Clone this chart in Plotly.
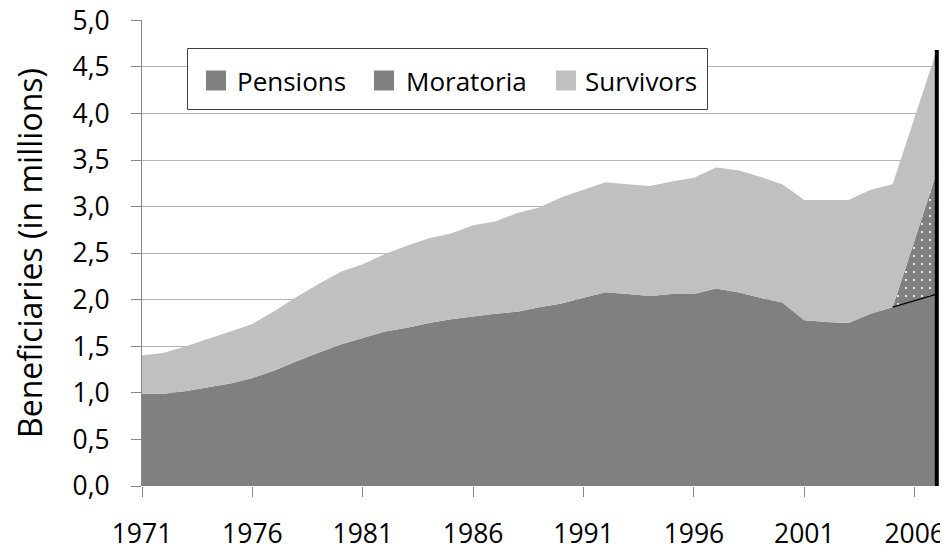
import plotly.graph_objects as go

# beneficiaries in millions
years = list(range(1971, 2008))

pensions = [
    0.99, 0.99, 1.02, 1.06, 1.10, 1.16, 1.24, 1.34, 1.43, 1.52,
    1.59, 1.66, 1.70, 1.75, 1.79, 1.82, 1.85, 1.87, 1.92, 1.96,
    2.02, 2.08, 2.06, 2.04, 2.06, 2.06, 2.12, 2.08, 2.02, 1.97,
    1.78, 1.76, 1.75, 1.85, 1.92, 1.99, 2.06,
]
moratoria = [0.0] * 34 + [0.0, 0.65, 1.31]
survivors = [
    0.41, 0.44, 0.48, 0.52, 0.56, 0.58, 0.64, 0.69, 0.74, 0.78,
    0.79, 0.83, 0.88, 0.91, 0.92, 0.98, 0.99, 1.06, 1.07, 1.14,
    1.16, 1.18, 1.18, 1.18, 1.21, 1.25, 1.30, 1.31, 1.30, 1.27,
    1.29, 1.31, 1.32, 1.33, 1.32, 1.32, 1.31,
]
series_names = ["Pensions", "Moratoria", "Survivors"]

FONT = "Open Sans"
DARK = "#808080"
LIGHT = "#c0c0c0"
AXIS_GRAY = "#868686"

fig = go.Figure()

fig.add_trace(go.Scatter(
    x=years, y=pensions, name=series_names[0], stackgroup="one",
    mode="none", fillcolor=DARK,
))
fig.add_trace(go.Scatter(
    x=years, y=moratoria, name=series_names[1], stackgroup="one",
    mode="none", fillcolor=DARK,
    fillpattern=dict(shape=".", bgcolor=DARK, fgcolor="white",
                     size=8, solidity=0.06),
))
fig.add_trace(go.Scatter(
    x=years, y=survivors, name=series_names[2], stackgroup="one",
    mode="none", fillcolor=LIGHT,
))

# black outline of the moratoria block (bottom edge and right edge)
start = next(i for i, v in enumerate(moratoria) if v > 0) - 1
fig.add_trace(go.Scatter(
    x=years[start:], y=pensions[start:], mode="lines",
    line=dict(color="black", width=1.3), hoverinfo="skip",
))
total_last = pensions[-1] + moratoria[-1] + survivors[-1]
fig.add_trace(go.Scatter(
    x=[years[-1], years[-1]], y=[0, total_last], mode="lines",
    line=dict(color="black", width=4), hoverinfo="skip",
))

# the page body has an 8px margin, so the figure is drawn 8px smaller
PAGE_OFF = 8
FIG_W, FIG_H = 948 - PAGE_OFF, 550 - PAGE_OFF
# plot area in page pixels
W, H, L, T = 797, 466, 142, 20


def px_x(p):
    return (p - L) / W


def px_y(p):
    return (T + H - p) / H


# hand-drawn legend box (Excel style, square swatches)
shapes = [dict(type="rect", xref="paper", yref="paper",
               x0=px_x(187.5), x1=px_x(707.5), y0=px_y(109.5), y1=px_y(48.5),
               fillcolor="white", line=dict(color="#404040", width=1))]
annotations = []
swatch_left = [206, 374, 556]
text_left = [235, 404, 583]
for name, sx, tx, col in zip(series_names, swatch_left, text_left, [DARK, DARK, LIGHT]):
    shapes.append(dict(type="rect", xref="paper", yref="paper",
                       x0=px_x(sx), x1=px_x(sx + 20), y0=px_y(90.5), y1=px_y(70.5),
                       fillcolor=col, line=dict(width=0)))
    annotations.append(dict(xref="paper", yref="paper", x=px_x(tx), y=px_y(81),
                            text=name, showarrow=False, xanchor="left",
                            yanchor="middle",
                            font=dict(family=FONT, size=26, color="black")))

fig.update_layout(
    template="none",
    width=FIG_W, height=FIG_H,
    margin=dict(l=L - PAGE_OFF, r=FIG_W - (L - PAGE_OFF) - W,
                t=T - PAGE_OFF, b=FIG_H - (T - PAGE_OFF) - H, autoexpand=False),
    paper_bgcolor="white", plot_bgcolor="white",
    separators=", ",
    showlegend=False,
    font=dict(family=FONT, size=26, color="black"),
    shapes=shapes,
    annotations=annotations,
    xaxis=dict(
        range=[1971, 2007.1], tick0=1971, dtick=5, automargin=False,
        showgrid=False, zeroline=False, showline=False,
        ticks="outside", ticklen=10, tickcolor=AXIS_GRAY,
        ticklabelstandoff=14, ticklabeloverflow="allow",
        tickfont=dict(family=FONT, size=26.5, color="black"),
    ),
    yaxis=dict(
        range=[0, 5.003], tick0=0, dtick=0.5, tickformat=".1f", automargin=False,
        showgrid=True, gridcolor="#b4b4b4", gridwidth=1, zeroline=False,
        showline=True, linecolor=AXIS_GRAY, linewidth=1,
        ticks="outside", ticklen=10, tickcolor=AXIS_GRAY,
        ticklabelstandoff=16, ticklabeloverflow="allow",
        tickfont=dict(family=FONT, size=26.5, color="black"),
        title=dict(text="Beneficiaries (in millions)", standoff=26,
                   font=dict(family=FONT, size=32, color="black")),
    ),
)

fig.write_html("out.html")
